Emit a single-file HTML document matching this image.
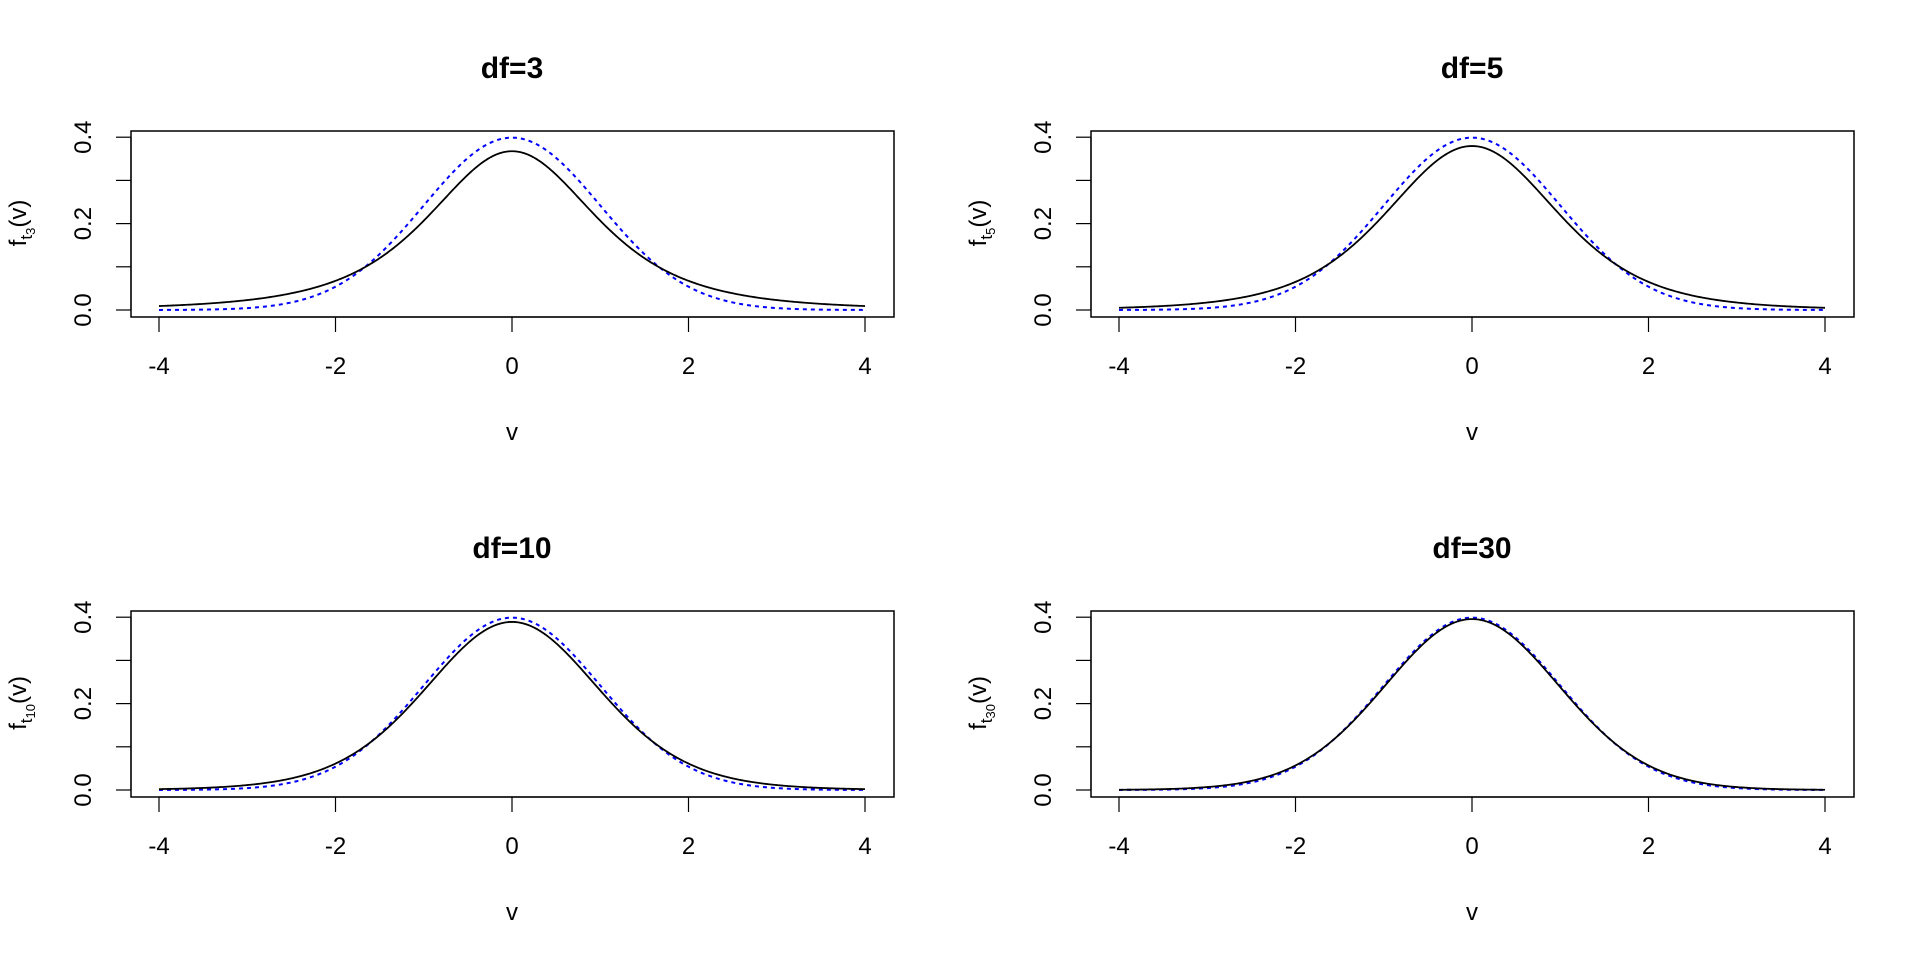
<!DOCTYPE html>
<html><head><meta charset="utf-8"><style>
html,body{margin:0;padding:0;background:#fff;}
svg{display:block;font-family:"Liberation Sans",Arial,sans-serif;}
</style></head><body>
<svg id="s" width="1920" height="960" xmlns="http://www.w3.org/2000/svg"></svg>
<script>
const s=document.getElementById('s');
function lg(z){const g=[0.99999999999980993,676.5203681218851,-1259.1392167224028,771.32342877765313,-176.61502916214059,12.507343278686905,-0.13857109526572012,9.9843695780195716e-6,1.5056327351493116e-7];
if(z<0.5)return Math.log(Math.PI/Math.sin(Math.PI*z))-lg(1-z);z-=1;let x=g[0];const t=z+7.5;for(let i=1;i<9;i++)x+=g[i]/(z+i);return 0.5*Math.log(2*Math.PI)+(z+0.5)*Math.log(t)-t+Math.log(x);}
function dt(x,n){return Math.exp(lg((n+1)/2)-lg(n/2)-0.5*Math.log(n*Math.PI)-(n+1)/2*Math.log(1+x*x/n));}
function dn(x){return Math.exp(-x*x/2)/Math.sqrt(2*Math.PI);}
let h='';
const panels=[[3,0,0],[5,960,0],[10,0,480],[30,960,480]];
for(const [df,ox,oy] of panels){
 const bx=131+ox,bw=763,by=131+oy,bh=186;
 const X=v=>512+ox+v*88.25, Y=p=>310+oy-p*432;
 h+=`<rect x="${bx}" y="${by}" width="${bw}" height="${bh}" fill="none" stroke="#000" stroke-width="1.5"/>`;
 h+=`<text x="${512+ox}" y="${78+oy}" font-size="30" font-weight="bold" text-anchor="middle">df=${df}</text>`;
 h+=`<line x1="${X(-4)}" y1="${by+bh}" x2="${X(4)}" y2="${by+bh}" stroke="#000" stroke-width="1.2"/>`;
 for(let v=-4;v<=4;v+=2){h+=`<line x1="${X(v)}" y1="${by+bh}" x2="${X(v)}" y2="${by+bh+15}" stroke="#000" stroke-width="1.2"/>`;
  h+=`<text x="${X(v)}" y="${374+oy}" font-size="24" text-anchor="middle">${v}</text>`;}
 h+=`<line x1="${bx}" y1="${Y(0)}" x2="${bx}" y2="${Y(0.4)}" stroke="#000" stroke-width="1.2"/>`;
 for(let k=0;k<=4;k++){const p=k/10;h+=`<line x1="${bx-15}" y1="${Y(p)}" x2="${bx}" y2="${Y(p)}" stroke="#000" stroke-width="1.2"/>`;
  if(k%2==0)h+=`<text transform="translate(${bx-40},${Y(p)}) rotate(-90)" font-size="24" text-anchor="middle">${p.toFixed(1)}</text>`;}
 h+=`<text x="${512+ox}" y="${440+oy}" font-size="24" text-anchor="middle">v</text>`;
 h+=`<text transform="translate(${26+ox},${223+oy}) rotate(-90)" font-size="24" text-anchor="middle">f<tspan font-size="17" dy="6">t</tspan><tspan font-size="13" dy="3">${df}</tspan><tspan dy="-9">(v)</tspan></text>`;
 let a='',b='';
 for(let i=0;i<=400;i++){const v=-4+i*0.02;a+=(i?'L':'M')+X(v).toFixed(2)+' '+Y(dt(v,df)).toFixed(2);b+=(i?'L':'M')+X(v).toFixed(2)+' '+Y(dn(v)).toFixed(2);}
 h+=`<path d="${b}" fill="none" stroke="#00f" stroke-width="2" stroke-dasharray="4,4"/>`;
 h+=`<path d="${a}" fill="none" stroke="#000" stroke-width="1.8"/>`;
}
s.innerHTML=h;
</script>
</body></html>
